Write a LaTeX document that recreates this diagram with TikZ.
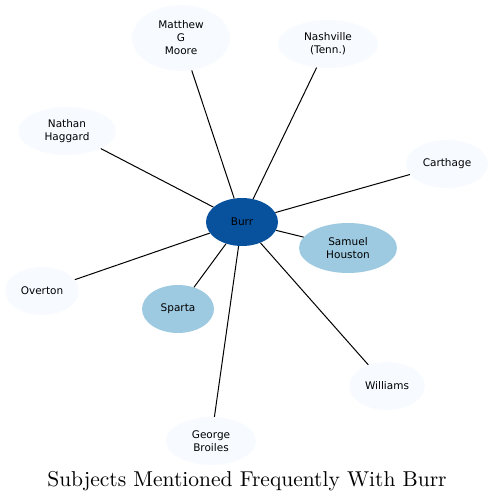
\documentclass[tikz,border=0pt]{standalone}
\usepackage{fontspec}
\setmainfont{Latin Modern Roman}
\newfontfamily\titlefont{lmroman10-regular}[Extension=.otf]
\newfontfamily\labelfont{DejaVu Sans}
\usetikzlibrary{shapes.geometric}
\definecolor{bLight}{HTML}{F7FBFF}
\definecolor{bMid}{HTML}{9ECAE1}
\definecolor{bDark}{HTML}{08519C}
\begin{document}
\begin{tikzpicture}[x=1pt,y=-1pt,
  ent/.style={ellipse, draw=none, fill=bLight, inner sep=0pt, align=center,
    font=\labelfont\fontsize{10.5}{13}\selectfont},
  hub/.style={ent, fill=bDark},
  mid/.style={ent, fill=bMid},
  link/.style={draw=black, line width=1pt},
]
\useasboundingbox (0,0) rectangle (494,502);
\node[hub, minimum width=72pt, minimum height=48pt] (burr) at (242,222) {Burr};
\node[ent, minimum width=98pt, minimum height=66pt] (moore) at (181,38) {Matthew\\G\\Moore};
\node[ent, minimum width=100pt, minimum height=48pt] (nash) at (328,44) {Nashville\\(Tenn.)};
\node[ent, minimum width=98pt, minimum height=48pt] (hagg) at (67,131) {Nathan\\Haggard};
\node[ent, minimum width=82pt, minimum height=48pt] (carth) at (447,164) {Carthage};
\node[mid, minimum width=98pt, minimum height=50pt] (hous) at (348,248) {Samuel\\Houston};
\node[ent, minimum width=74pt, minimum height=48pt] (over) at (42,291) {Overton};
\node[mid, minimum width=72pt, minimum height=48pt] (spart) at (178,309) {Sparta};
\node[ent, minimum width=76pt, minimum height=48pt] (will) at (387,386) {Williams};
\node[ent, minimum width=90pt, minimum height=48pt] (geo) at (211,441) {George\\Broiles};
\foreach \t in {moore,nash,hagg,carth,hous,over,spart,will,geo}
  \draw[link] (burr) -- (\t);
\node[font=\titlefont\fontsize{21.5}{24}\selectfont, inner sep=0pt] (title) at (247,481) {Subjects Mentioned Frequently With Burr};
\end{tikzpicture}
\end{document}
